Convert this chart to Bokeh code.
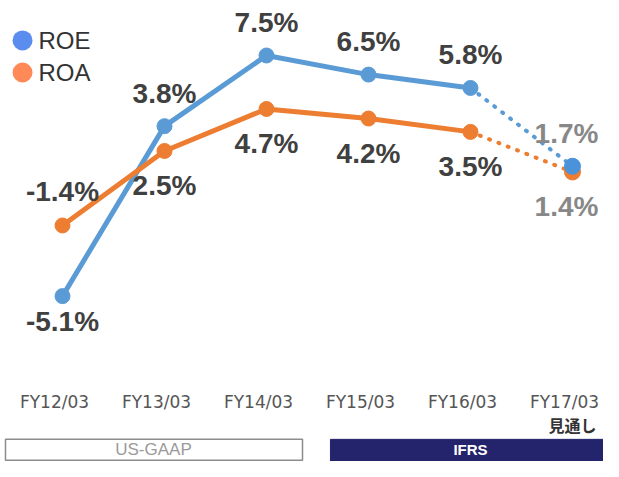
from bokeh.plotting import figure
from bokeh.models import ColumnDataSource, Range1d
from bokeh.core.properties import value
from bokeh.embed import file_html
from bokeh.resources import INLINE

# ---- data ----
categories = ["FY12/03", "FY13/03", "FY14/03", "FY15/03", "FY16/03", "FY17/03"]
forecast_note = "見通し"
roe = [-5.1, 3.8, 7.5, 6.5, 5.8, 1.7]
roa = [-1.4, 2.5, 4.7, 4.2, 3.5, 1.4]
series_names = ["ROE", "ROA"]
standards = ["US-GAAP", "IFRS"]
standard_groups = [[0, 1, 2], [3, 4, 5]]

# ---- style ----
ROE_C = "#5B9BD5"
ROA_C = "#ED7D31"
DARK = "#404040"
GRAY = "#888888"
FONT = value("Liberation Sans")

W, H = 603, 461
p = figure(width=W, height=H, output_backend="svg", toolbar_location=None,
           x_range=Range1d(-0.608, 5.304), y_range=Range1d(-13.76, 10.38),
           x_axis_location=None, y_axis_location=None, min_border=0,
           outline_line_color=None, background_fill_color="white",
           border_fill_color="white")
p.xgrid.visible = False
p.ygrid.visible = False

x = list(range(len(categories)))
last = len(categories) - 1  # forecast point

for vals, col in ((roe, ROE_C), (roa, ROA_C)):
    p.line(x[:last], vals[:last], line_color=col, line_width=5, line_join="round")
    p.line(x[last - 1:], vals[last - 1:], line_color=col, line_width=4,
           line_dash="1 9", line_cap="round")

# markers (ROA first so ROE sits on top at forecast)
p.scatter(x[:last], roa[:last], size=15, fill_color=ROA_C, line_color=ROA_C)
p.scatter(x[:last], roe[:last], size=15, fill_color=ROE_C, line_color=ROE_C)
p.scatter([x[last]], [roa[last]], size=16, fill_color=ROA_C, line_color=ROA_C)
p.scatter([x[last]], [roe[last]], size=16, fill_color="#4A92DA", line_color="#4A92DA")

# value labels
def label_source(vals, above_when_pos):
    offs = []
    for v in vals:
        if above_when_pos:
            offs.append(-33 if v >= 0 else 25)
        else:
            offs.append(35 if v >= 0 else -34)
    cols = [DARK] * (len(vals) - 1) + [GRAY]
    xo = [0] * (len(vals) - 1) + [-6]
    return ColumnDataSource(dict(x=x, y=vals, t=[f"{v:.1f}%" for v in vals],
                                 yo=offs, xo=xo, c=cols))

for vals, above in ((roe, True), (roa, False)):
    p.text("x", "y", text="t", source=label_source(vals, above), y_offset="yo",
           x_offset="xo", text_color="c", text_font=FONT, text_font_style="bold",
           text_font_size="28px", text_align="center", text_baseline="middle")

# category labels
p.text(x, [-10.67] * len(x), text=categories, x_offset=-8,
       text_font=value("DejaVu Sans"), text_font_size="17px", text_color="#555555",
       text_align="center", text_baseline="middle")
p.text([x[last]], [-11.85], text=[forecast_note], x_offset=0,
       text_font=value("Noto Sans CJK JP"), text_font_style="bold",
       text_font_size="16px", text_color="#333333",
       text_align="center", text_baseline="middle")

# legend (manual)
leg_y = [8.29, 6.61]
p.scatter([-0.392, -0.392], leg_y, size=20,
          fill_color=["#5B8DEF", "#FF8A57"], line_color=None)
p.text([-0.392, -0.392], leg_y, text=series_names, x_offset=16,
       text_font=FONT, text_font_size="24px", text_color="#333333",
       text_align="left", text_baseline="middle")

# accounting standard boxes
box_l = [min(standard_groups[0]) - 0.559, min(standard_groups[1]) - 0.373]
box_r = [max(standard_groups[0]) + 0.353, max(standard_groups[1]) + 0.4]
p.quad(left=[box_l[0]], right=[box_r[0]], top=-12.6, bottom=-13.70,
       fill_color="white", line_color="#8C8C8C", line_width=1.5)
p.quad(left=[box_l[1]], right=[box_r[1]], top=-12.6, bottom=-14.0,
       fill_color="#24246C", line_color="#24246C")
p.text([0.892], [-13.15], text=[standards[0]],
       text_font=FONT, text_font_size="17px", text_color="#9A9A9A",
       text_align="center", text_baseline="middle")
p.text([4.0], [-13.15], text=[standards[1]],
       text_font=FONT, text_font_style="bold", text_font_size="15px",
       text_color="white", text_align="center", text_baseline="middle")

open("out.html", "w").write(file_html(p, INLINE))
